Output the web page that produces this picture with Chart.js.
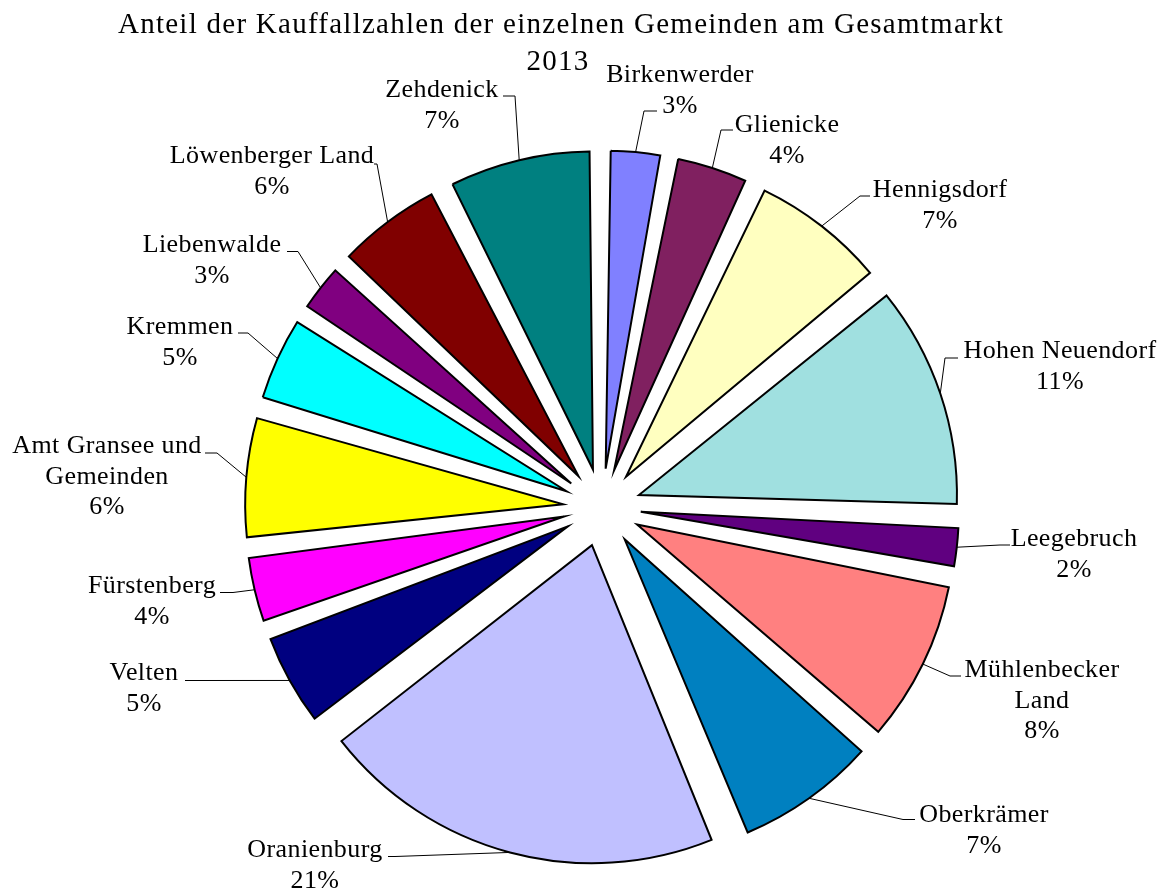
<!DOCTYPE html>
<html>
<head>
<meta charset="utf-8">
<script src="https://cdn.jsdelivr.net/npm/chart.js@4.4.1/dist/chart.umd.min.js"></script>
<style>
  html, body { margin: 0; padding: 0; background: #ffffff; }
  #wrap { width: 1167px; height: 891px; }
</style>
</head>
<body>
<div id="wrap"><canvas id="c" width="1167" height="891"></canvas></div>
<script>
// ---- data ----
const categories = [
  ['Birkenwerder'], ['Glienicke'], ['Hennigsdorf'], ['Hohen Neuendorf'], ['Leegebruch'],
  ['Mühlenbecker', 'Land'], ['Oberkrämer'], ['Oranienburg'], ['Velten'], ['Fürstenberg'],
  ['Amt Gransee und', 'Gemeinden'], ['Kremmen'], ['Liebenwalde'], ['Löwenberger Land'], ['Zehdenick']
];
const shares = [3.0, 4.0, 7.1, 11.45, 2.45, 8.45, 7.4, 20.6, 5.0, 3.7, 6.4, 4.6, 2.8, 5.6, 7.45];
const titleLines = ['Anteil der Kauffallzahlen der einzelnen Gemeinden am Gesamtmarkt', '2013'];

// ---- styles ----
const sliceColors = ['#8080FF', '#802060', '#FFFFC0', '#A0E0E0', '#600080', '#FF8080', '#0080C0',
  '#C0C0FF', '#000080', '#FF00FF', '#FFFF00', '#00FFFF', '#800080', '#800000', '#008080'];

// ---- layout ----
const PIE_R = 318;      // pie radius in px
const EXPLODE = 39;     // explosion distance in px
// label layout: [text centre x, first baseline y, elbow x, tick y, tick end x]
const labelLayout = [
  [680, 82, 644, 111, 657],
  [787, 132, 721, 130, 733],
  [940, 197, 860, 196, 870],
  [1060, 358, 945, 358, 958],
  [1074, 546, 1000, 545, 1010],
  [1042, 677, 950, 676, 961],
  [984, 822, 903, 819.5, 915],
  [315, 857, 395, 856.5, 388],
  [144, 680, 192, 680.5, 185],
  [152, 593, 233, 592.5, 220],
  [107, 453, 217, 453, 205],
  [180, 334, 248, 333, 238],
  [212, 252, 298, 251.5, 287],
  [272, 163, 377, 164, 374],
  [442, 97, 515, 96, 503]
];
const LINE_H = 30.5;
const LABEL_FONT = '26px "Liberation Serif", "Times New Roman", serif';
const TITLE_FONT = '29px "Liberation Serif", "Times New Roman", serif';

const total = shares.reduce((a, b) => a + b, 0);

const explodePlugin = {
  id: 'explode',
  beforeDatasetsDraw(chart) {
    // make the built-in arc offset behave as a uniform explosion
    const meta = chart.getDatasetMeta(0);
    meta.data.forEach(el => {
      const circ = el.endAngle - el.startAngle;
      const fix = 1 - Math.sin(Math.min(Math.PI, circ));
      el.outerRadius = PIE_R - EXPLODE * fix;
    });
  },
  afterDraw(chart) {
    const ctx = chart.ctx;
    const meta = chart.getDatasetMeta(0);
    ctx.save();
    // title
    ctx.fillStyle = '#000';
    ctx.textAlign = 'center';
    ctx.textBaseline = 'alphabetic';
    ctx.font = TITLE_FONT;
    if ('letterSpacing' in ctx) {
      ctx.letterSpacing = '0px';
      const w = ctx.measureText(titleLines[0]).width;
      const ls = Math.max(0, (885 - w) / (titleLines[0].length - 1));
      ctx.letterSpacing = ls.toFixed(2) + 'px';
    }
    ctx.fillText(titleLines[0], 561, 33);
    ctx.fillText(titleLines[1], 558, 70);

    // leader lines
    ctx.strokeStyle = '#000';
    ctx.lineWidth = 1;
    meta.data.forEach((el, i) => {
      const m = (el.startAngle + el.endAngle) / 2;
      const px = el.x + (EXPLODE + PIE_R) * Math.cos(m);
      const py = el.y + (EXPLODE + PIE_R) * Math.sin(m);
      const L = labelLayout[i];
      ctx.beginPath();
      ctx.moveTo(px, py);
      ctx.lineTo(L[2], L[3]);
      ctx.lineTo(L[4], L[3]);
      ctx.stroke();
    });

    // labels
    ctx.font = LABEL_FONT;
    if ('letterSpacing' in ctx) ctx.letterSpacing = '0.4px';
    meta.data.forEach((el, i) => {
      const L = labelLayout[i];
      const lines = categories[i].concat([Math.round(shares[i] / total * 100) + '%']);
      lines.forEach((t, k) => ctx.fillText(t, L[0], L[1] + k * LINE_H));
    });
    ctx.restore();
  }
};

new Chart(document.getElementById('c'), {
  type: 'pie',
  data: {
    labels: categories,
    datasets: [{
      data: shares,
      backgroundColor: sliceColors,
      borderColor: '#000000',
      borderWidth: 2,
      borderJoinStyle: 'miter',
      offset: EXPLODE * 4,
      hoverOffset: 0
    }]
  },
  options: {
    responsive: false,
    animation: false,
    radius: PIE_R,
    layout: { padding: { left: 37, right: 0, top: 124, bottom: 0 } },
    events: [],
    plugins: {
      legend: { display: false },
      tooltip: { enabled: false },
      title: { display: false }
    }
  },
  plugins: [explodePlugin]
});
</script>
</body>
</html>
